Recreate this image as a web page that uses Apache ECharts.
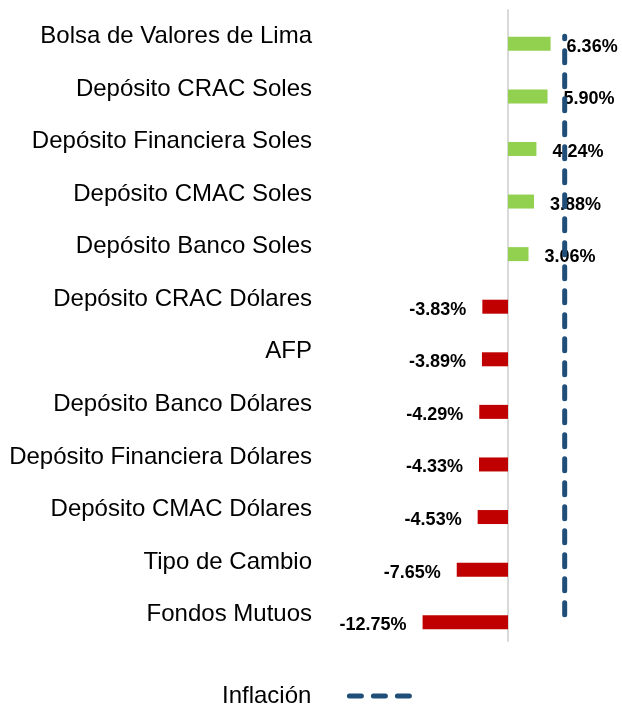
<!DOCTYPE html>
<html style="height: 100%">
<head>
    <meta charset="utf-8">
</head>
<body style="height: 100%; margin: 0; background-color: #fff;">
<div id="container" style="width: 622px; height: 706px"></div>
<script type="text/javascript" src="https://cdn.jsdelivr.net/npm/echarts@6/dist/echarts.min.js"></script>
<script type="text/javascript">
var categories = ['Bolsa de Valores de Lima', 'Depósito CRAC Soles', 'Depósito Financiera Soles',
    'Depósito CMAC Soles', 'Depósito Banco Soles', 'Depósito CRAC Dólares', 'AFP',
    'Depósito Banco Dólares', 'Depósito Financiera Dólares', 'Depósito CMAC Dólares',
    'Tipo de Cambio', 'Fondos Mutuos'];
var rentabilidad = [6.36, 5.90, 4.24, 3.88, 3.06, -3.83, -3.89, -4.29, -4.33, -4.53, -7.65, -12.75];
var inflacion = 8.46;

var fontName = '"Liberation Sans", Arial, sans-serif';
var lineColor = '#1F4E79';

var myChart = echarts.init(document.getElementById('container'));

var barData = rentabilidad.map(function (v) {
    return {
        value: v,
        itemStyle: { color: v >= 0 ? '#92D050' : '#C00000' },
        label: { position: v >= 0 ? 'right' : 'left' }
    };
});

var option = {
    animation: false,
    textStyle: { fontFamily: fontName },
    legend: {
        data: [{ name: 'Inflación', itemStyle: { opacity: 0 } }],
        left: 222,
        top: 684,
        padding: 0,
        align: 'right',
        itemWidth: 60,
        itemHeight: 14,
        lineStyle: { color: lineColor, width: 5, type: [12, 12], cap: 'round' },
        textStyle: { fontSize: 24, color: '#000', padding: [4, 33, 0, 0] }
    },
    grid: [
        // labels + axis line (axis line sits at value 0)
        { left: 508, right: 47, top: 10, bottom: 65, outerBoundsMode: 'none' },
        // bars, shifted down a bit like the original
        { left: 407.5, right: 47, top: 17.5, bottom: 57.5, outerBoundsMode: 'none' }
    ],
    xAxis: [
        { type: 'value', gridIndex: 0, min: 0, max: 10, show: false },
        { type: 'value', gridIndex: 1, min: -15, max: 10, show: false }
    ],
    yAxis: [
        {
            type: 'category', gridIndex: 0, data: categories, inverse: true,
            axisLine: { lineStyle: { color: '#d9d9d9', width: 2 } },
            axisTick: { show: false },
            axisLabel: {
                margin: 196, fontSize: 24, color: '#000', fontFamily: fontName,
                padding: [4, 0, 0, 0]
            }
        },
        {
            type: 'category', gridIndex: 1, data: categories, inverse: true, show: false
        }
    ],
    series: [
        {
            name: 'Rentabilidad',
            type: 'bar',
            xAxisIndex: 1,
            yAxisIndex: 1,
            barWidth: 14,
            z: 2,
            label: {
                show: true,
                distance: 16,
                offset: [0, 3],
                fontSize: 18,
                fontWeight: 'bold',
                color: '#000',
                fontFamily: fontName,
                formatter: function (p) { return p.value.toFixed(2) + '%'; }
            },
            data: barData
        },
        {
            name: 'Inflación',
            type: 'line',
            xAxisIndex: 0,
            yAxisIndex: 0,
            z: 10,
            symbol: 'none',
            itemStyle: { color: lineColor },
            lineStyle: { color: lineColor, width: 5, type: [12, 12], cap: 'round' },
            data: [[inflacion, categories[categories.length - 1]], [inflacion, categories[0]]]
        }
    ]
};

myChart.setOption(option);
</script>
</body>
</html>
